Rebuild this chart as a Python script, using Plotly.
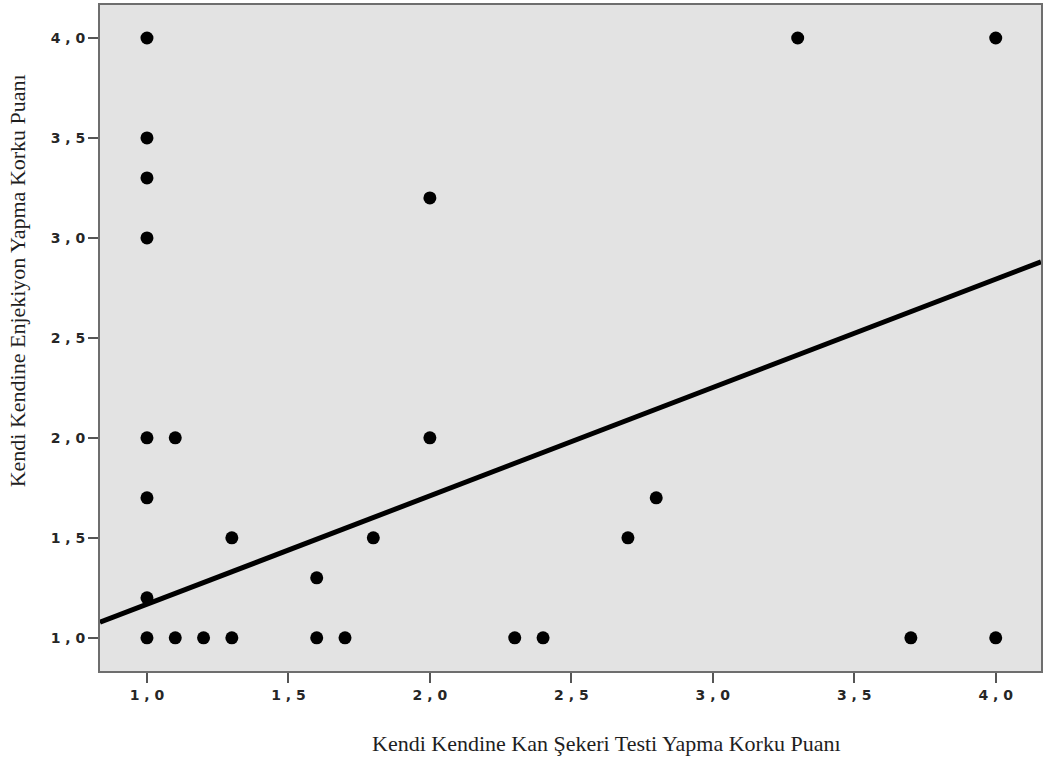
import plotly.graph_objects as go

# Scatter data: (Kan Şekeri Testi score, Enjeksiyon score)
x_values = [1.0, 1.0, 1.0, 1.0, 1.0, 1.0, 1.0, 1.0,
            1.1, 1.1, 1.2, 1.3, 1.3, 1.6, 1.6, 1.7, 1.8,
            2.0, 2.0, 2.3, 2.4, 2.7, 2.8, 3.3, 3.7, 4.0, 4.0]
y_values = [4.0, 3.5, 3.3, 3.0, 2.0, 1.7, 1.2, 1.0,
            2.0, 1.0, 1.0, 1.5, 1.0, 1.3, 1.0, 1.0, 1.5,
            3.2, 2.0, 1.0, 1.0, 1.5, 1.7, 4.0, 1.0, 4.0, 1.0]

# Fit line
fit_intercept = 0.626
fit_slope = 0.542

tick_vals = [1.0, 1.5, 2.0, 2.5, 3.0, 3.5, 4.0]
tick_text = ["1 , 0", "1 , 5", "2 , 0", "2 , 5", "3 , 0", "3 , 5", "4 , 0"]

x_range = [0.834, 4.160]
y_range = [0.834, 4.165]

x_title = "Kendi Kendine Kan Şekeri Testi Yapma Korku Puanı"
y_title = "Kendi Kendine Enjekiyon Yapma Korku Puanı"

fit_x = list(x_range)
fit_y = [fit_intercept + fit_slope * v for v in fit_x]

fig = go.Figure()
fig.add_trace(go.Scatter(x=fit_x, y=fit_y, mode="lines",
                         line=dict(color="black", width=5),
                         hoverinfo="skip", showlegend=False))
fig.add_trace(go.Scatter(x=x_values, y=y_values, mode="markers",
                         marker=dict(color="black", size=13, line=dict(width=0)),
                         showlegend=False))

tick_font = dict(family="DejaVu Sans", size=14, color="#262626", weight="bold")
axis_common = dict(
    tickvals=tick_vals, ticktext=tick_text, tickfont=tick_font,
    ticks="outside", ticklen=10, tickwidth=2, tickcolor="#555555",
    showline=True, linecolor="#6e6e6e", linewidth=2, mirror=True,
    showgrid=False, zeroline=False, fixedrange=True,
)
fig.update_xaxes(range=x_range, **axis_common)
fig.update_yaxes(range=y_range, **axis_common)

title_font = dict(family="Liberation Serif", size=22, color="#1e1e1e")
fig.update_layout(
    width=1046, height=761,
    margin=dict(l=100, r=3, t=3, b=90),
    paper_bgcolor="white", plot_bgcolor="#e3e3e3",
    annotations=[
        dict(text=x_title, xref="paper", yref="paper", x=(608 - 100) / 943, y=(671 - 744) / 668,
             xanchor="center", yanchor="middle", showarrow=False, font=title_font),
        dict(text=y_title, xref="paper", yref="paper", x=(17 - 100) / 943, y=(671 - 280) / 668,
             xanchor="center", yanchor="middle", showarrow=False, textangle=-90, font=title_font),
    ],
)

fig.write_html("out.html")
